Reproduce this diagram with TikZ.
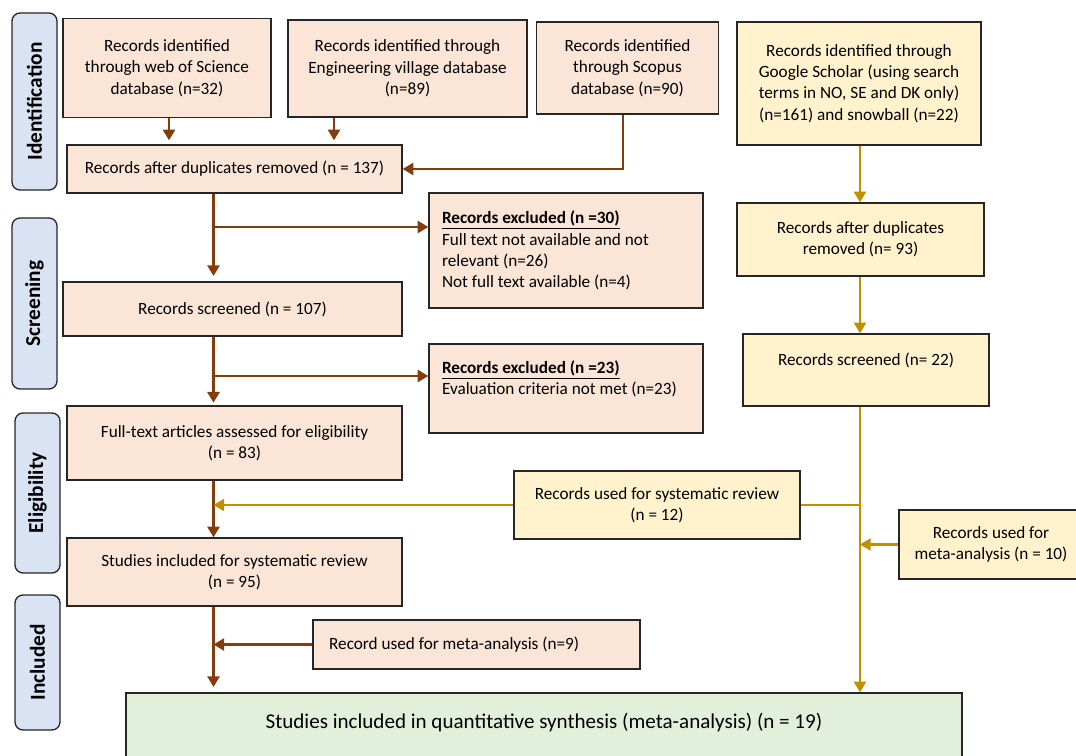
\documentclass[tikz,border=0pt]{standalone}
\usepackage{fontspec}
\setmainfont{Carlito}
\usetikzlibrary{arrows.meta}
\tikzset{>={Triangle[length=8pt,width=9pt]}}
\definecolor{pinkfill}{HTML}{FBE5D6}
\definecolor{yelfill}{HTML}{FFF2CC}
\definecolor{grnfill}{HTML}{E2EFDA}
\definecolor{stagefill}{HTML}{DAE3F3}
\definecolor{brownline}{HTML}{843C0C}
\definecolor{goldline}{HTML}{BF9000}
\definecolor{edgeline}{HTML}{262626}

\begin{document}
\begin{tikzpicture}[x=0.75pt,y=-0.75pt,
    sz/.style 2 args={minimum width=#1*0.75pt,minimum height=#2*0.75pt},
    pinkbox/.style={draw=edgeline,line width=1pt,fill=pinkfill,align=center,inner sep=0pt,
        font=\fontsize{12.9}{16}\selectfont},
    yelbox/.style={pinkbox,fill=yelfill},
    stage/.style={draw=edgeline,line width=1pt,fill=stagefill,rounded corners=6pt,rotate=90,
        inner sep=0pt,font=\fontsize{16}{18}\selectfont\bfseries},
    brownarr/.style={draw=brownline,line width=2pt},
    goldarr/.style={draw=goldline,line width=1.6pt}]
    \useasboundingbox (0,0) rectangle (1076,756);
    % stages
    \node[stage,sz={177}{45}] (ident) at (34.5,101.5) {Identification};
    \node[stage,sz={171}{45}] (screen) at (34.5,303.5) {Screening};
    \node[stage,sz={160}{45}] (elig) at (37.5,493) {Eligibility};
    \node[stage,sz={135}{45}] (incl) at (37.5,662.5) {Included};
    % databases
    \node[pinkbox,sz={208}{99}] (wos) at (167,68) {Records identified\\through web of Science\\database (n=32)};
    \node[pinkbox,sz={239}{97}] (eng) at (407.5,68.5) {Records identified through\\Engineering village database\\(n=89)};
    \node[pinkbox,sz={182}{92}] (scopus) at (627.5,68) {Records identified\\through Scopus\\database (n=90)};
    \node[yelbox,sz={244}{123}] (gs) at (859,83.5) {Records identified through\\Google Scholar (using search\\terms in NO, SE and DK only)\\(n=161) and snowball (n=22)};
    % left column
    \node[pinkbox,sz={335}{48}] (dup) at (234.5,169) {Records after duplicates removed (n = 137)};
    \node[pinkbox,sz={339}{54}] (scr) at (232.5,309) {Records screened (n = 107)};
    \node[pinkbox,sz={335}{74}] (full) at (234.5,443) {Full-text articles assessed for eligibility\\(n = 83)};
    \node[pinkbox,sz={335}{68}] (stud) at (234.5,572) {Studies included for systematic review\\(n = 95)};
    % exclusions
    \node[pinkbox,sz={274}{115},text width=186pt,align=flush left] (exclA) at (566,250.5)
        {\underline{\textbf{Records excluded (n =30)}}\\Full text not available and not\\relevant (n=26)\\Not full text available (n=4)};
    \node[pinkbox,sz={274}{89},text width=186pt,align=flush left] (exclB) at (566,388.5)
        {\underline{\textbf{Records excluded (n =23)}}\\Evaluation criteria not met (n=23)\\\mbox{}};
    \node[pinkbox,sz={327}{49},text width=221pt,align=flush left] (meta9) at (476.5,644.5) {Record used for meta-analysis (n=9)};
    % right column
    \node[yelbox,sz={247}{73}] (gdup) at (860.5,239.5) {Records after duplicates\\removed (n= 93)};
    \node[yelbox,sz={246}{72}] (gscr) at (866,370) {Records screened (n= 22)\\\mbox{}};
    \node[yelbox,sz={286}{68}] (sysrev) at (657,505) {Records used for systematic review\\(n = 12)};
    \node[yelbox,sz={184}{69}] (meta10) at (991,544.5) {Records used for\\meta-analysis (n = 10)};
    % synthesis
    \node[pinkbox,fill=grnfill,sz={836}{80},font=\fontsize{15.8}{18}\selectfont] (final) at (544,733)
        {Studies included in quantitative synthesis (meta-analysis) (n = 19)\\\mbox{}};

    \coordinate (trunk) at (213.5,0);
    \coordinate (gtrunk) at (860,0);
    \coordinate (brA) at (213.5,227);
    \coordinate (brB) at (213.5,376);
    % brown flow
    \draw[brownarr,->,shorten >=3pt] (169,0 |- wos.south) -- (169,0 |- dup.north);
    \draw[brownarr,->,shorten >=3pt] (334,0 |- eng.south) -- (334,0 |- dup.north);
    \draw[brownarr,->] (623,0 |- scopus.south) |- (dup.east);
    \draw[brownarr,->,shorten >=4pt] (trunk |- dup.south) -- (trunk |- scr.north);
    \draw[brownarr,->] (brA) -- (brA -| exclA.west);
    \draw[brownarr,->,shorten >=2pt] (trunk |- scr.south) -- (trunk |- full.north);
    \draw[brownarr,->] (brB) -- (brB -| exclB.west);
    \draw[brownarr,->] (trunk |- full.south) -- (trunk |- stud.north);
    \draw[brownarr,->,shorten >=4pt] (trunk |- stud.south) -- (trunk |- final.north);
    \draw[brownarr,->] (meta9.west) -- (meta9.west -| trunk);
    % gold flow
    \draw[goldarr,->] (gtrunk |- gs.south) -- (gtrunk |- gdup.north);
    \draw[goldarr,->] (gtrunk |- gdup.south) -- (gtrunk |- gscr.north);
    \draw[goldarr,->] (gtrunk |- gscr.south) -- (gtrunk |- final.north);
    \draw[goldarr] (sysrev.east) -- (sysrev.east -| gtrunk);
    \draw[goldarr,->] (sysrev.west) -- (sysrev.west -| trunk);
    \draw[goldarr,->] (meta10.west) -- (meta10.west -| gtrunk);
\end{tikzpicture}
\end{document}
